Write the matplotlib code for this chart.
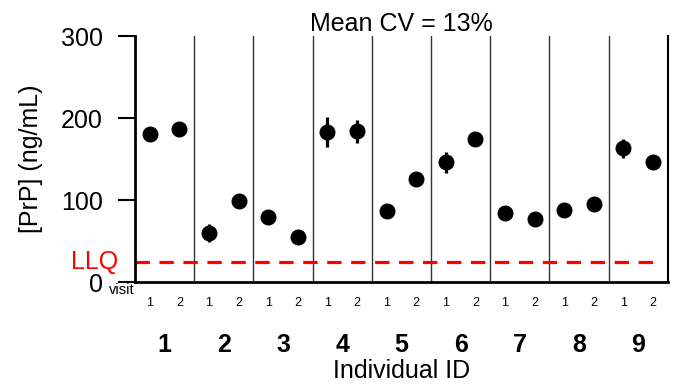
import matplotlib.pyplot as plt
import matplotlib.transforms as mtransforms
import numpy as np

plt.rcParams['font.family'] = ['Liberation Sans', 'DejaVu Sans']

# individual IDs and the two visits per individual
individuals = ['1', '2', '3', '4', '5', '6', '7', '8', '9']
visits = ['1', '2']

# mean [PrP] per visit (ng/mL) and error bar half-lengths
visit1 = [181, 60, 79, 183, 87, 146, 84, 88, 163]
visit2 = [186, 99, 55, 184, 126, 174, 77, 95, 146]
err1 = [3, 11, 3, 18, 3, 13, 3, 3, 12]
err2 = [8, 3, 6, 14, 3, 3, 3, 9, 3]

llq = 25
mean_cv = 13

fig = plt.figure(figsize=(6.76, 3.84), dpi=100)
ax = fig.add_axes([0.1997, 0.2656, 0.7883, 0.6406])

n = len(individuals)
x1 = np.arange(n) + 0.25
x2 = np.arange(n) + 0.75

for xs, ys, es in [(x1, visit1, err1), (x2, visit2, err2)]:
    ax.errorbar(xs, ys, yerr=es, fmt='o', color='black', ms=10.5,
                elinewidth=2.3, capsize=0, zorder=3)

# group separators
for i in range(1, n):
    ax.axvline(i, color='#333333', lw=1, zorder=1)

# lower limit of quantification
ax.plot([0, 8.8], [llq, llq], color='red', lw=2.3, dashes=(4.5, 3), zorder=2)
ax.text(-0.28, llq, 'LLQ', color='red', fontsize=18, ha='right', va='center')

ax.set_xlim(0, n)
ax.set_ylim(0, 300)
ax.set_yticks([0, 100, 200, 300])
ax.set_yticklabels(['0', '100', '200', '300'])
ax.tick_params(axis='y', length=12, width=1.5, pad=11, labelsize=18)

xt = np.sort(np.concatenate([x1, x2]))
ax.set_xticks(xt)
ax.set_xticklabels(visits * n)
ax.tick_params(axis='x', length=0, pad=11, labelsize=9)

ax.spines['top'].set_visible(False)
ax.spines['left'].set_linewidth(2)
ax.spines['bottom'].set_linewidth(2)
ax.spines['right'].set_linewidth(1.5)

trans = mtransforms.blended_transform_factory(ax.transData, ax.transAxes)
for i, lab in enumerate(individuals):
    ax.text(i + 0.5, -0.258, lab, transform=trans, fontsize=18,
            fontweight='bold', ha='center', va='center')
ax.text(0, -0.005, 'visit', transform=trans, fontsize=10.5, ha='right', va='top')

ax.set_ylabel('[PrP] (ng/mL)', fontsize=18)
ax.yaxis.set_label_coords(-0.172, 0.5)
ax.set_xlabel('Individual ID', fontsize=18)
ax.xaxis.set_label_coords(0.5, -0.315)
ax.set_title(f'Mean CV = {mean_cv}%', fontsize=18, pad=3)

fig.savefig('out.png', dpi=100)
